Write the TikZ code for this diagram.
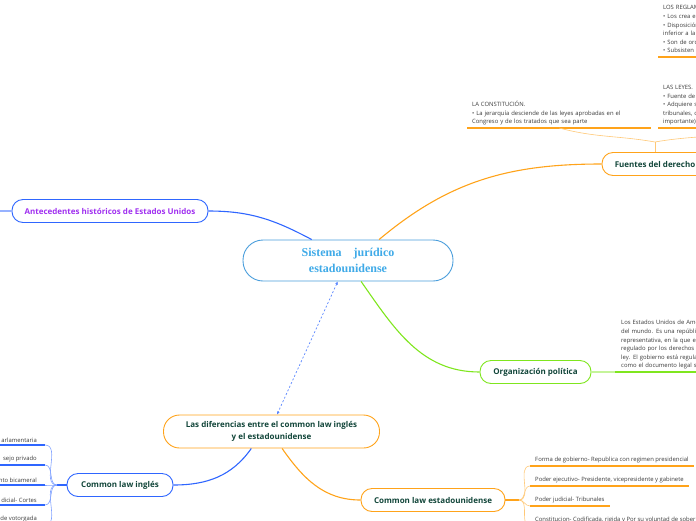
\documentclass[tikz,border=0pt]{standalone}
\usepackage{fontspec}
\setmainfont{Open Sans}
\newfontfamily\rootfont{Liberation Serif}
\usetikzlibrary{arrows.meta}

\definecolor{rootblue}{HTML}{3FAAE8}
\definecolor{rootline}{HTML}{4A9EDC}
\definecolor{cblue}{HTML}{2F66FF}
\definecolor{cpurple}{HTML}{A030F0}
\definecolor{corange}{HTML}{FFA31A}
\definecolor{cgreen}{HTML}{7FE61E}
\definecolor{darktext}{HTML}{12463A}
\definecolor{leaftext}{HTML}{3A3A3A}

\tikzset{
  rootbox/.style={draw=rootline, line width=0.9pt, rounded corners=20pt, fill=white,
    minimum width=210pt, minimum height=41pt, align=center, text=rootblue,
    font=\rootfont\bfseries\fontsize{12}{15.5}\selectfont},
  topic/.style={draw=#1, line width=0.9pt, rounded corners=11pt, fill=white,
    minimum height=23pt, text=darktext, font=\bfseries\fontsize{8}{12.5}\selectfont},
  leaf/.style={inner xsep=5pt, inner ysep=2.5pt, align=left, text=leaftext,
    font=\fontsize{5.9}{8.6}\selectfont},
  link/.style={draw=#1, line width=1.1pt},
  twig/.style={draw=#1, line width=0.6pt},
  uline/.style={draw=#1, line width=1.2pt},
  dashlink/.style={draw=cblue!80, line width=0.7pt, dash pattern=on 2pt off 2pt}
}

\begin{document}
\begin{tikzpicture}[x=1pt,y=1pt]
\useasboundingbox (0,0) rectangle (696,-520);
\clip (0,0) rectangle (696,-520);

% Centro
\node[rootbox] (root) at (348,-260.5) {Sistema\hspace{12pt}jurídico\\estadounidense};

% Temas
\node[topic=cblue, text=cpurple, minimum width=196pt] (antec) at (110,-211) {Antecedentes históricos de Estados Unidos};
\node[topic=corange, minimum width=106pt] (fuentes) at (655,-164) {Fuentes del derecho};
\node[topic=cgreen, minimum width=111pt] (organiz) at (535.5,-372) {Organización política};
\node[topic=corange, minimum width=216pt, minimum height=33pt, rounded corners=16pt, align=center] (difer) at (271.5,-431.5) {Las diferencias entre el common law inglés\\y el estadounidense};
\node[topic=cblue, minimum width=106pt] (ingles) at (120,-485) {Common law inglés};
\node[topic=corange, minimum width=144pt] (eeuu) at (433,-500) {Common law estadounidense};

\draw[link=cblue] (antec.east) to[out=0,in=152] (root.150);
\coordinate (antecout) at (-4,-211);
\draw[link=cblue!50] (antec.west) -- (antecout);
\draw[link=corange] (root.34) to[out=40,in=180] (fuentes.west);
\draw[link=cgreen] (root.-58) to[out=-55,in=180] (organiz.west);
\draw[dashlink, {Latex[length=3pt,width=3pt]}-{Latex[length=3pt,width=3pt]}] (root.-116) -- (difer.72);
\draw[link=cblue] (difer.220) to[out=235,in=0] (ingles.east);
\draw[link=corange] (difer.-58) to[out=-55,in=180] (eeuu.west);

% Fuentes del derecho
\coordinate (fjct) at (655,-142);
\node[leaf, anchor=south west, text width=174pt] (constit) at (467,-128) {LA CONSTITUCIÓN.\\• La jerarquía desciende de las leyes aprobadas en el\\Congreso y de los tratados que sea parte};
\node[leaf, anchor=south west, text width=190pt] (leyes) at (658,-128) {LAS LEYES.\\• Fuente de\\• Adquiere s\\tribunales, c\\importante)};
\node[leaf, anchor=south west, text width=190pt] (reglam) at (658,-57) {LOS REGLAM\\• Los crea el\\• Disposición\\inferior a la\\• Son de ord\\• Subsisten p};
\draw[uline=corange] (constit.south west) -- (constit.south east);
\draw[uline=corange] (leyes.south west) -- (leyes.south east);
\draw[uline=corange] (reglam.south west) -- (reglam.south east);
\draw[twig=corange!60] (fuentes.north) -- (fjct);
\draw[twig=corange!60] (fjct) to[out=170,in=-15] (constit.south);
\draw[twig=corange!60] (fjct) to[out=10,in=195] (leyes.south);

% Organizacion politica
\node[leaf, anchor=south west, text width=190pt, inner xsep=6pt] (gobierno) at (615,-372) {Los Estados Unidos de Amé\\del mundo. Es una repúblic\\representativa, en la que el\\regulado por los derechos\\ley. El gobierno está regula\\como el documento legal s};
\draw[twig=cgreen!45, line width=1.1pt] (organiz.east) -- (gobierno.south west);
\draw[uline=cgreen] (gobierno.south west) -- (gobierno.south east);

% Common law ingles
\coordinate (ijct) at (57,-485);
\draw[link=cblue] (ingles.west) -- (ijct);
\foreach \n/\y/\t in {i1/445/{arlamentaria}, i2/465/{sejo privado}, i3/485/{nto bicameral}, i4/505/{dicial- Cortes}, i5/525/{de votorgada}}{
  \node[leaf, anchor=south east, inner xsep=8pt] (\n) at (45,-\y) {\t};
  \draw[uline=cblue] (\n.south west) -- (\n.south east);
  \draw[twig=cblue!60] (ijct) to[out=180,in=0] (\n.south east);
}

% Common law estadounidense
\coordinate (ejct) at (519,-500);
\draw[link=corange] (eeuu.east) -- (ejct);
\foreach \n/\y/\t in {e1/466/{Forma de gobierno- Republica con regimen presidencial}, e2/486/{Poder ejecutivo- Presidente, vicepresidente y gabinete}, e3/506/{Poder judicial- Tribunales}, e4/526/{Constitucion- Codificada, rigida y Por su voluntad de sober}}{
  \node[leaf, anchor=south west] (\n) at (530,-\y) {\t};
  \draw[uline=corange] (\n.south west) -- (\n.south east);
  \draw[twig=corange!60] (ejct) to[out=0,in=180] (\n.south west);
}

\end{tikzpicture}
\end{document}
